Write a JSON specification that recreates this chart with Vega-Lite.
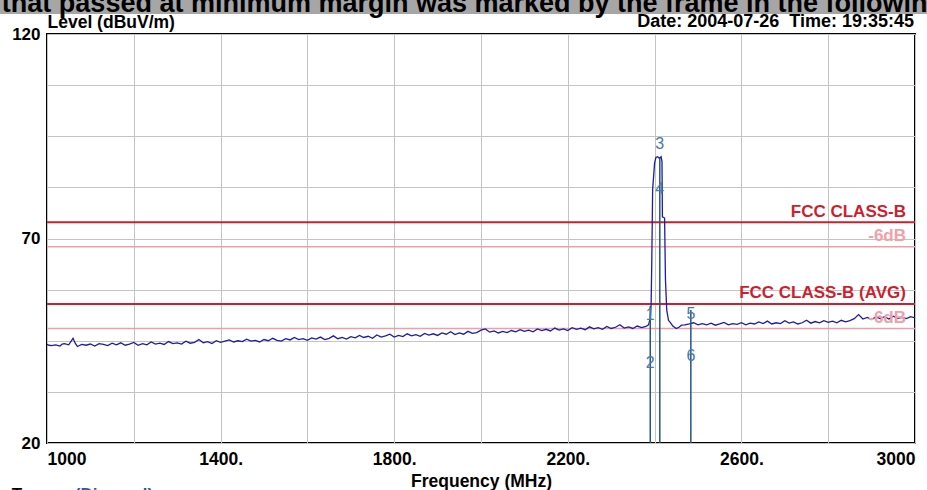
{
  "$schema": "https://vega.github.io/schema/vega-lite/v6.json",
  "width": 868,
  "height": 409,
  "autosize": {"type": "none"},
  "padding": {"left": 47, "top": 34, "right": 12, "bottom": 47},
  "background": "white",
  "config": {
    "view": {"stroke": "black", "strokeWidth": 2},
    "font": "Liberation Sans",
    "axis": {"labelFont": "Liberation Sans", "labelFontWeight": "bold", "titleFontWeight": "bold", "labelColor": "black", "titleColor": "black"}
  },
  "datasets": {
    "spectrum": [
      {"freq":1000,"level":44.1},{"freq":1005,"level":43.9},{"freq":1010,"level":43.8},{"freq":1020,"level":44.0},{"freq":1030,"level":43.7},{"freq":1035,"level":44.2},{"freq":1040,"level":44.3},{"freq":1050,"level":44.0},{"freq":1060,"level":45.6},{"freq":1065,"level":44.4},{"freq":1070,"level":43.6},{"freq":1080,"level":44.1},{"freq":1090,"level":43.9},
      {"freq":1100,"level":44.2},{"freq":1110,"level":43.7},{"freq":1120,"level":44.3},{"freq":1130,"level":44.1},{"freq":1140,"level":43.8},{"freq":1150,"level":44.4},{"freq":1160,"level":44.0},{"freq":1170,"level":44.5},{"freq":1180,"level":43.9},{"freq":1190,"level":44.2},
      {"freq":1200,"level":44.6},{"freq":1210,"level":43.9},{"freq":1220,"level":44.3},{"freq":1230,"level":44.0},{"freq":1240,"level":44.7},{"freq":1250,"level":44.2},{"freq":1260,"level":44.4},{"freq":1270,"level":44.1},{"freq":1280,"level":44.8},{"freq":1290,"level":44.3},
      {"freq":1300,"level":44.5},{"freq":1310,"level":44.2},{"freq":1320,"level":44.9},{"freq":1330,"level":44.4},{"freq":1340,"level":44.6},{"freq":1350,"level":45.3},{"freq":1360,"level":44.5},{"freq":1370,"level":44.8},{"freq":1380,"level":44.3},{"freq":1390,"level":45.0},
      {"freq":1400,"level":44.6},{"freq":1410,"level":44.9},{"freq":1420,"level":45.2},{"freq":1430,"level":44.7},{"freq":1440,"level":45.0},{"freq":1450,"level":44.8},{"freq":1460,"level":45.4},{"freq":1470,"level":44.9},{"freq":1480,"level":45.1},{"freq":1490,"level":44.7},
      {"freq":1500,"level":45.3},{"freq":1510,"level":45.0},{"freq":1520,"level":45.6},{"freq":1530,"level":45.1},{"freq":1540,"level":44.9},{"freq":1550,"level":45.5},{"freq":1560,"level":45.2},{"freq":1570,"level":45.8},{"freq":1580,"level":45.3},{"freq":1590,"level":45.5},
      {"freq":1600,"level":45.1},{"freq":1610,"level":45.7},{"freq":1620,"level":45.4},{"freq":1630,"level":45.9},{"freq":1640,"level":45.3},{"freq":1650,"level":45.6},{"freq":1660,"level":46.2},{"freq":1670,"level":45.5},{"freq":1680,"level":45.8},{"freq":1690,"level":45.4},
      {"freq":1700,"level":46.0},{"freq":1710,"level":45.7},{"freq":1720,"level":46.3},{"freq":1730,"level":45.8},{"freq":1740,"level":46.1},{"freq":1750,"level":45.6},{"freq":1760,"level":46.4},{"freq":1770,"level":45.9},{"freq":1780,"level":46.2},{"freq":1790,"level":46.6},
      {"freq":1800,"level":45.9},{"freq":1810,"level":46.3},{"freq":1820,"level":46.0},{"freq":1830,"level":46.7},{"freq":1840,"level":46.2},{"freq":1850,"level":46.5},{"freq":1860,"level":46.1},{"freq":1870,"level":46.8},{"freq":1880,"level":46.4},{"freq":1890,"level":46.7},
      {"freq":1900,"level":46.3},{"freq":1910,"level":46.9},{"freq":1920,"level":46.6},{"freq":1930,"level":47.2},{"freq":1940,"level":46.5},{"freq":1950,"level":46.9},{"freq":1960,"level":46.6},{"freq":1970,"level":47.3},{"freq":1980,"level":46.8},{"freq":1990,"level":47.0},
      {"freq":2000,"level":47.6},{"freq":2010,"level":47.9},{"freq":2020,"level":47.1},{"freq":2030,"level":47.4},{"freq":2040,"level":46.9},{"freq":2050,"level":47.3},{"freq":2060,"level":47.0},{"freq":2070,"level":47.5},{"freq":2080,"level":47.2},{"freq":2090,"level":47.7},
      {"freq":2100,"level":47.3},{"freq":2110,"level":47.6},{"freq":2120,"level":47.2},{"freq":2130,"level":47.9},{"freq":2140,"level":47.5},{"freq":2150,"level":47.8},{"freq":2160,"level":47.4},{"freq":2170,"level":48.1},{"freq":2180,"level":47.6},{"freq":2190,"level":47.9},
      {"freq":2200,"level":47.5},{"freq":2210,"level":48.2},{"freq":2220,"level":47.8},{"freq":2230,"level":48.1},{"freq":2240,"level":47.7},{"freq":2250,"level":48.4},{"freq":2260,"level":47.9},{"freq":2270,"level":48.2},{"freq":2280,"level":47.8},{"freq":2290,"level":48.5},
      {"freq":2300,"level":48.0},{"freq":2310,"level":48.3},{"freq":2320,"level":48.9},{"freq":2330,"level":48.1},{"freq":2340,"level":48.4},{"freq":2350,"level":48.0},{"freq":2360,"level":48.6},{"freq":2370,"level":48.2},{"freq":2380,"level":48.5},
      {"freq":2386,"level":48.9},{"freq":2390,"level":50.5},{"freq":2392,"level":54.0},{"freq":2393.5,"level":64.5},{"freq":2395.5,"level":82.0},{"freq":2400,"level":88.5},{"freq":2403,"level":89.8},{"freq":2407,"level":90.0},{"freq":2411,"level":89.6},{"freq":2415,"level":90.0},{"freq":2417,"level":88.8},{"freq":2418,"level":75.3},{"freq":2423,"level":75.0},{"freq":2425,"level":60.0},{"freq":2428,"level":52.5},{"freq":2432,"level":50.0},{"freq":2436,"level":49.5},{"freq":2442,"level":48.6},{"freq":2450,"level":48.0},{"freq":2456,"level":48.3},{"freq":2462,"level":48.8},
      {"freq":2470,"level":48.9},{"freq":2480,"level":49.1},{"freq":2490,"level":49.4},{"freq":2500,"level":48.9},{"freq":2510,"level":49.2},{"freq":2520,"level":48.9},{"freq":2530,"level":49.3},{"freq":2540,"level":48.8},{"freq":2550,"level":49.1},{"freq":2560,"level":49.5},
      {"freq":2570,"level":48.9},{"freq":2580,"level":49.2},{"freq":2590,"level":49.0},{"freq":2600,"level":49.4},{"freq":2610,"level":48.9},{"freq":2620,"level":49.3},{"freq":2630,"level":49.1},{"freq":2640,"level":49.6},{"freq":2650,"level":49.2},{"freq":2660,"level":49.8},
      {"freq":2670,"level":49.1},{"freq":2680,"level":49.4},{"freq":2690,"level":49.2},{"freq":2700,"level":49.9},{"freq":2710,"level":49.3},{"freq":2720,"level":49.6},{"freq":2730,"level":49.1},{"freq":2740,"level":49.4},{"freq":2750,"level":50.0},{"freq":2760,"level":49.3},
      {"freq":2770,"level":49.7},{"freq":2780,"level":49.4},{"freq":2790,"level":49.9},{"freq":2800,"level":49.5},{"freq":2810,"level":49.8},{"freq":2820,"level":49.4},{"freq":2830,"level":50.0},{"freq":2840,"level":49.6},{"freq":2850,"level":49.9},{"freq":2860,"level":50.4},
      {"freq":2870,"level":51.4},{"freq":2880,"level":50.3},{"freq":2890,"level":50.7},{"freq":2900,"level":50.2},{"freq":2910,"level":50.8},{"freq":2920,"level":50.4},{"freq":2930,"level":50.9},{"freq":2940,"level":50.3},{"freq":2950,"level":51.0},{"freq":2960,"level":50.5},
      {"freq":2970,"level":50.7},{"freq":2980,"level":50.4},{"freq":2990,"level":50.9},{"freq":3000,"level":50.6}
    ],
    "limits": [
      {"name":"FCC CLASS-B","level":74,"kind":"limit"},
      {"name":"-6dB","level":68,"kind":"margin"},
      {"name":"FCC CLASS-B (AVG)","level":54,"kind":"limit"},
      {"name":"-6dB","level":48,"kind":"margin"}
    ],
    "markers": [
      {"mark":"1","freq":2390,"level":51.3},
      {"mark":"2","freq":2390,"level":39.6},
      {"mark":"3","freq":2412,"level":93.1},
      {"mark":"4","freq":2412,"level":82.1},
      {"mark":"5","freq":2483.5,"level":51.5},
      {"mark":"6","freq":2483.5,"level":41.3}
    ],
    "markerLines": [
      {"freq":2390,"level":53.5},
      {"freq":2412,"level":89.7},
      {"freq":2483.5,"level":52.5}
    ],
    "captions": [
      {"caption":"Date: 2004-07-26\u00a0 Time: 19:35:45"}
    ],
    "banner": [
      {"caption":"that passed at minimum margin was marked by the frame in the following"}
    ],
    "footer": [
      {"caption":"Trace:","freq":919,"kind":"label"},
      {"caption":"(Dimmed)","freq":1064,"kind":"value"}
    ]
  },
  "layer": [
    {
      "data": {"name": "limits"},
      "transform": [{"filter": "datum.kind == 'margin'"}],
      "mark": {"type": "rule", "color": "#ec9fa6", "strokeWidth": 1.5},
      "encoding": {"y": {"field": "level", "type": "quantitative"}}
    },
    {
      "data": {"name": "limits"},
      "transform": [{"filter": "datum.kind == 'limit'"}],
      "mark": {"type": "rule", "color": "#cc1f2f", "strokeWidth": 2},
      "encoding": {"y": {"field": "level", "type": "quantitative"}}
    },
    {
      "data": {"name": "spectrum"},
      "mark": {"type": "line", "color": "#1c1ca6", "strokeWidth": 1.3},
      "encoding": {
        "x": {
          "field": "freq", "type": "quantitative",
          "scale": {"domain": [1000, 3000], "nice": false, "zero": false},
          "axis": {
            "title": "Frequency (MHz)",
            "values": [1000,1200,1400,1600,1800,2000,2200,2400,2600,2800,3000],
            "labelExpr": "datum.value == 1000 || datum.value == 3000 ? format(datum.value, 'd') : (datum.value % 400 == 200 ? format(datum.value, 'd') + '.' : '')",
            "labelFlush": true, "labelOverlap": false,
            "grid": true, "gridColor": "#c4c4c4", "gridWidth": 1,
            "domain": false, "ticks": false,
            "labelFont": "Liberation Sans", "labelFontSize": 17.5, "labelFontWeight": "bold", "labelColor": "black", "labelPadding": 7,
            "titleFont": "Liberation Sans", "titleFontSize": 17.5, "titleFontWeight": "bold", "titleColor": "black", "titlePadding": 5,
            "encode": {"labels": {"update": {"fontWeight": {"value": "bold"}}}}
          }
        },
        "y": {
          "field": "level", "type": "quantitative",
          "scale": {"domain": [20, 120], "nice": false, "zero": false},
          "axis": {
            "title": "Level (dBuV/m)",
            "values": [20,32.5,45,57.5,70,82.5,95,107.5,120],
            "labelExpr": "datum.value == 120 || datum.value == 70 || datum.value == 20 ? format(datum.value, 'd') : ''",
            "labelOverlap": false,
            "grid": true, "gridColor": "#c4c4c4", "gridWidth": 1,
            "domain": false, "ticks": false,
            "labelFont": "Liberation Sans", "labelFontSize": 17, "labelFontWeight": "bold", "labelColor": "black", "labelPadding": 7,
            "titleFont": "Liberation Sans", "titleFontSize": 17.5, "titleFontWeight": "bold", "titleColor": "black",
            "titleAngle": 0, "titleAlign": "left", "titleBaseline": "alphabetic", "titleX": 0, "titleY": -7,
            "encode": {"labels": {"update": {"fontWeight": {"value": "bold"}}}}
          }
        }
      }
    },
    {
      "data": {"name": "markerLines"},
      "mark": {"type": "rule", "color": "#245584", "strokeWidth": 1.5},
      "encoding": {
        "x": {"field": "freq", "type": "quantitative"},
        "y": {"field": "level", "type": "quantitative"},
        "y2": {"datum": 20}
      }
    },
    {
      "data": {"name": "markers"},
      "mark": {"type": "text", "color": "#4878a8", "font": "Liberation Sans", "fontSize": 16, "align": "center", "baseline": "middle"},
      "encoding": {
        "x": {"field": "freq", "type": "quantitative"},
        "y": {"field": "level", "type": "quantitative"},
        "text": {"field": "mark"}
      }
    },
    {
      "data": {"name": "limits"},
      "transform": [{"filter": "datum.kind == 'limit'"}],
      "mark": {"type": "text", "font": "Liberation Sans", "fontSize": 17, "fontWeight": "bold", "align": "right", "baseline": "alphabetic", "dx": -9, "dy": -5.5, "color": "#cc1f2f"},
      "encoding": {
        "x": {"datum": 3000},
        "y": {"field": "level", "type": "quantitative"},
        "text": {"field": "name"}
      }
    },
    {
      "data": {"name": "limits"},
      "transform": [{"filter": "datum.kind == 'margin'"}],
      "mark": {"type": "text", "font": "Liberation Sans", "fontSize": 17, "fontWeight": "bold", "align": "right", "baseline": "alphabetic", "dx": -9, "dy": -5.5, "color": "#f0a0a8"},
      "encoding": {
        "x": {"datum": 3000},
        "y": {"field": "level", "type": "quantitative"},
        "text": {"field": "name"}
      }
    },
    {
      "data": {"name": "captions"},
      "mark": {"type": "text", "font": "Liberation Sans", "fontSize": 18, "fontWeight": "bold", "align": "right", "baseline": "alphabetic", "dx": -1, "dy": -7, "color": "black"},
      "encoding": {
        "x": {"datum": 3000},
        "y": {"datum": 120},
        "text": {"field": "caption"}
      }
    },
    {
      "data": {"name": "footer"},
      "transform": [{"filter": "datum.kind == 'label'"}],
      "mark": {"type": "text", "font": "Liberation Sans", "fontSize": 17, "fontWeight": "bold", "align": "left", "baseline": "top", "color": "black"},
      "encoding": {
        "x": {"field": "freq", "type": "quantitative"},
        "y": {"datum": 9.3},
        "text": {"field": "caption"}
      }
    },
    {
      "data": {"name": "footer"},
      "transform": [{"filter": "datum.kind == 'value'"}],
      "mark": {"type": "text", "font": "Liberation Sans", "fontSize": 17, "fontWeight": "bold", "align": "left", "baseline": "top", "color": "#2c5aa8"},
      "encoding": {
        "x": {"field": "freq", "type": "quantitative"},
        "y": {"datum": 9.3},
        "text": {"field": "caption"}
      }
    },
    {
      "data": {"values": [{}]},
      "mark": {"type": "rect", "color": "#a6a6a6"},
      "encoding": {
        "x": {"datum": 880},
        "x2": {"datum": 3040},
        "y": {"datum": 131},
        "y2": {"datum": 124.9}
      }
    },
    {
      "data": {"name": "banner"},
      "mark": {"type": "text", "font": "Liberation Sans", "fontSize": 27, "fontWeight": "bold", "align": "left", "baseline": "alphabetic", "color": "black"},
      "encoding": {
        "x": {"datum": 896},
        "y": {"datum": 125.26},
        "text": {"field": "caption"}
      }
    }
  ]
}
